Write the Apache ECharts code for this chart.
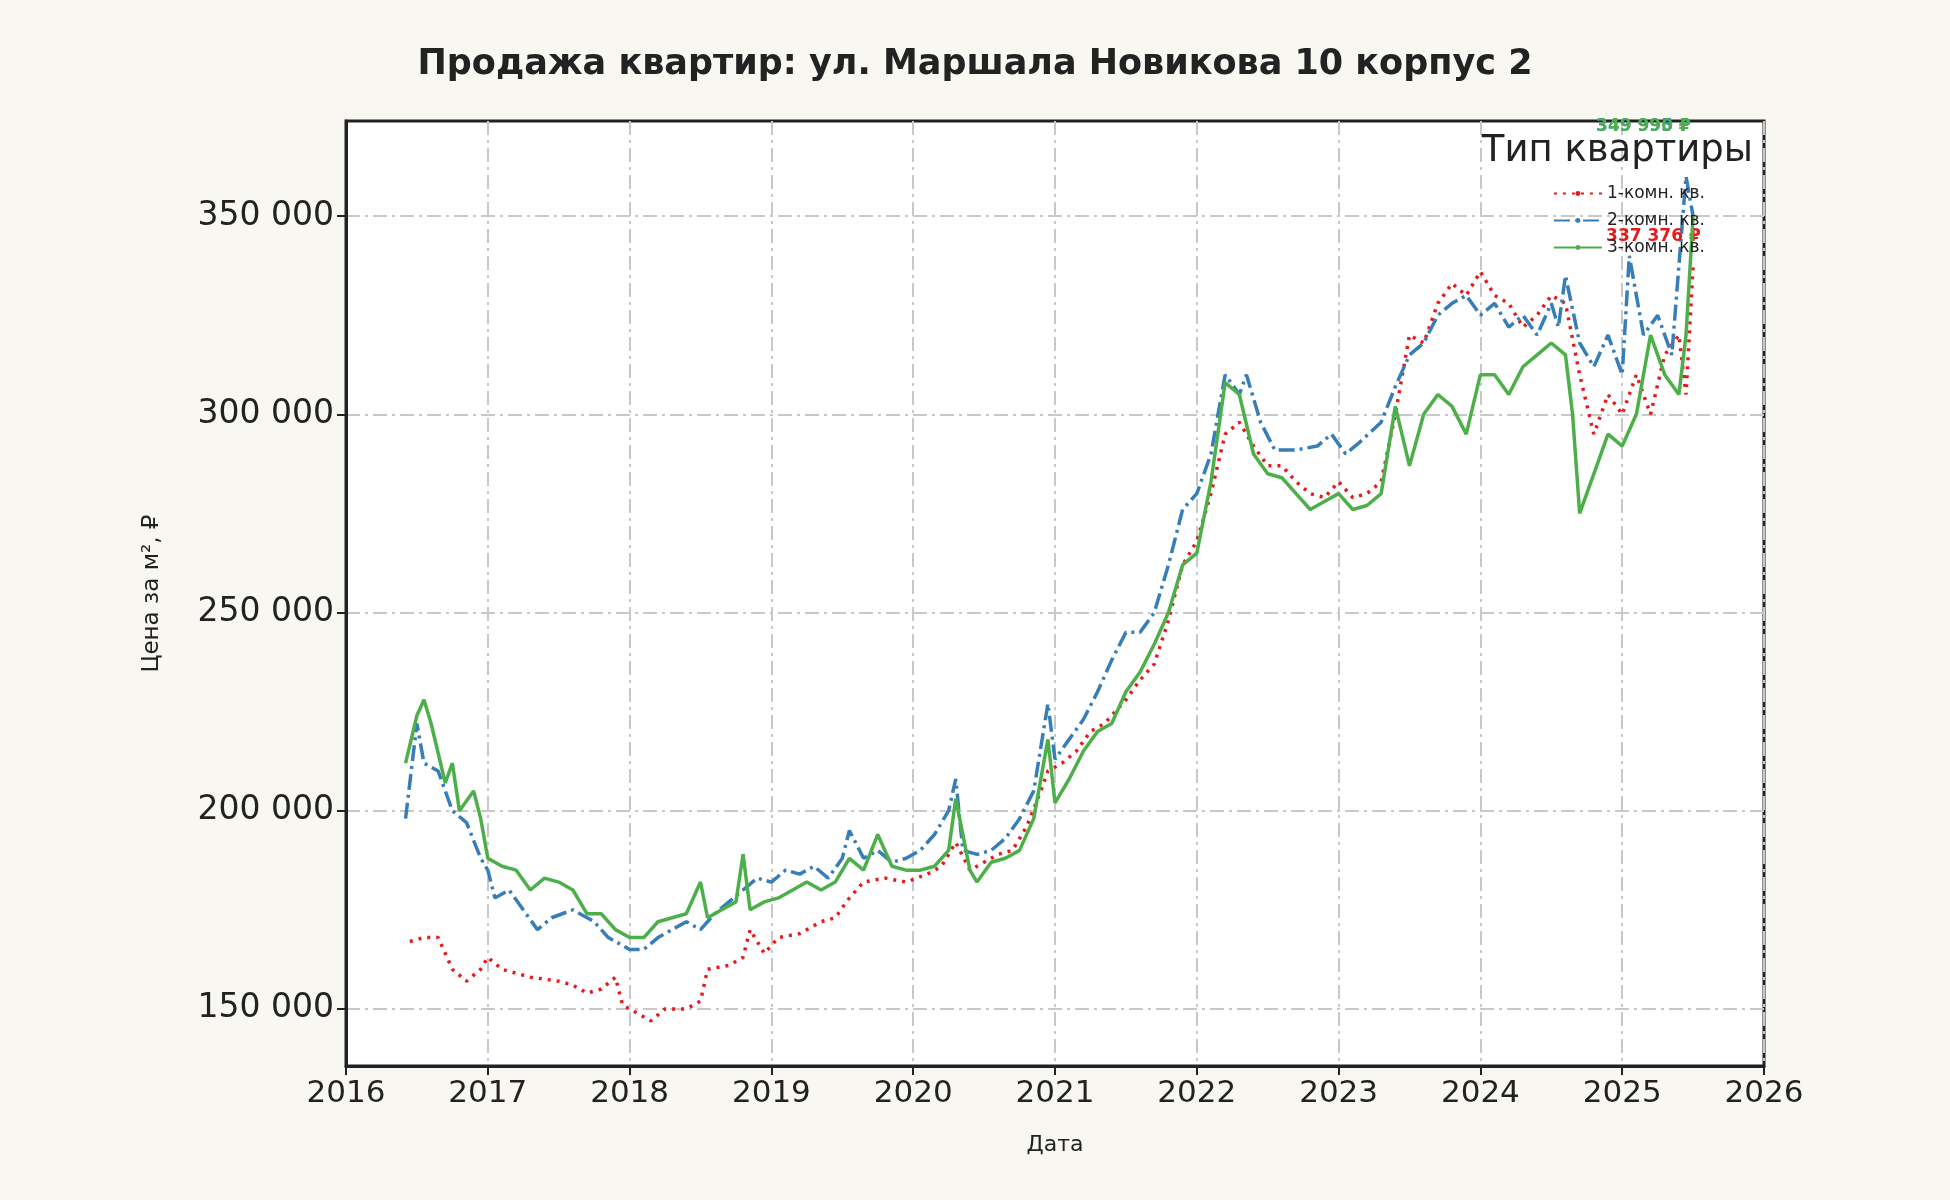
<!DOCTYPE html><html><head><meta charset="utf-8">
<script src="https://cdn.jsdelivr.net/npm/echarts@6/dist/echarts.min.js"></script>
<style>html,body{margin:0;background:#f8f7f2}#c{width:1950px;height:1200px}</style></head><body><div id="c"></div>
<script>
const seriesNames=['1-комн. кв.','2-комн. кв.','3-комн. кв.'];
const yTicks=[150000,200000,250000,300000,350000];
const xTicks=[2016,2017,2018,2019,2020,2021,2022,2023,2024,2025,2026];
const room1=[[2016.45,167000],[2016.55,168000],[2016.65,168000],[2016.75,160000],[2016.85,157000],[2016.95,160000],[2017.0,163000],[2017.1,160000],[2017.3,158000],[2017.5,157000],[2017.6,156000],[2017.7,154000],[2017.8,155000],[2017.9,158000],[2017.95,151000],[2018.05,149000],[2018.15,147000],[2018.25,150000],[2018.4,150000],[2018.5,152000],[2018.55,160000],[2018.7,161000],[2018.8,163000],[2018.85,170000],[2018.95,164000],[2019.05,168000],[2019.2,169000],[2019.35,172000],[2019.45,173000],[2019.55,178000],[2019.65,182000],[2019.8,183000],[2019.95,182000],[2020.1,184000],[2020.2,186000],[2020.3,192000],[2020.4,185000],[2020.5,187000],[2020.6,189000],[2020.7,190000],[2020.8,196000],[2020.9,205000],[2020.95,210000],[2021.05,212000],[2021.15,215000],[2021.25,220000],[2021.35,222000],[2021.5,228000],[2021.6,233000],[2021.7,237000],[2021.8,248000],[2021.9,262000],[2022.0,268000],[2022.1,280000],[2022.2,295000],[2022.3,298000],[2022.4,292000],[2022.5,287000],[2022.6,287000],[2022.7,283000],[2022.8,280000],[2022.9,279000],[2023.0,283000],[2023.1,279000],[2023.2,280000],[2023.3,283000],[2023.4,300000],[2023.5,320000],[2023.6,318000],[2023.7,328000],[2023.8,333000],[2023.9,330000],[2024.0,336000],[2024.1,330000],[2024.2,328000],[2024.3,322000],[2024.4,325000],[2024.5,330000],[2024.6,328000],[2024.7,310000],[2024.8,295000],[2024.9,305000],[2025.0,300000],[2025.1,310000],[2025.2,300000],[2025.3,315000],[2025.4,320000],[2025.45,305000],[2025.5,337376]];
const room2=[[2016.42,198000],[2016.5,222000],[2016.55,212000],[2016.65,210000],[2016.75,200000],[2016.85,197000],[2016.95,188000],[2017.0,185000],[2017.05,178000],[2017.15,180000],[2017.25,175000],[2017.35,170000],[2017.45,173000],[2017.6,175000],[2017.75,172000],[2017.85,168000],[2018.0,165000],[2018.1,165000],[2018.2,168000],[2018.3,170000],[2018.4,172000],[2018.5,170000],[2018.6,174000],[2018.7,177000],[2018.8,180000],[2018.9,183000],[2019.0,182000],[2019.1,185000],[2019.2,184000],[2019.3,186000],[2019.4,183000],[2019.5,188000],[2019.55,195000],[2019.65,188000],[2019.75,190000],[2019.85,187000],[2019.95,188000],[2020.05,190000],[2020.15,194000],[2020.25,200000],[2020.3,208000],[2020.35,190000],[2020.45,189000],[2020.55,190000],[2020.65,193000],[2020.75,198000],[2020.85,205000],[2020.95,227000],[2021.0,213000],[2021.1,218000],[2021.2,223000],[2021.3,230000],[2021.4,238000],[2021.5,245000],[2021.6,245000],[2021.7,250000],[2021.8,262000],[2021.9,276000],[2022.0,280000],[2022.1,290000],[2022.2,310000],[2022.3,305000],[2022.35,310000],[2022.45,298000],[2022.55,291000],[2022.7,291000],[2022.85,292000],[2022.95,295000],[2023.05,290000],[2023.15,293000],[2023.3,298000],[2023.4,307000],[2023.5,315000],[2023.6,318000],[2023.7,325000],[2023.8,328000],[2023.9,330000],[2024.0,325000],[2024.1,328000],[2024.2,322000],[2024.3,325000],[2024.4,320000],[2024.5,328000],[2024.55,322000],[2024.6,335000],[2024.7,318000],[2024.8,312000],[2024.9,320000],[2025.0,310000],[2025.05,340000],[2025.15,320000],[2025.25,325000],[2025.35,315000],[2025.45,360000],[2025.5,349995]];
const room3=[[2016.42,212000],[2016.5,224000],[2016.55,228000],[2016.6,222000],[2016.7,207000],[2016.75,212000],[2016.8,200000],[2016.9,205000],[2016.95,198000],[2017.0,188000],[2017.1,186000],[2017.2,185000],[2017.3,180000],[2017.4,183000],[2017.5,182000],[2017.6,180000],[2017.7,174000],[2017.8,174000],[2017.9,170000],[2018.0,168000],[2018.1,168000],[2018.2,172000],[2018.3,173000],[2018.4,174000],[2018.5,182000],[2018.55,173000],[2018.65,175000],[2018.75,177000],[2018.8,189000],[2018.85,175000],[2018.95,177000],[2019.05,178000],[2019.15,180000],[2019.25,182000],[2019.35,180000],[2019.45,182000],[2019.55,188000],[2019.65,185000],[2019.75,194000],[2019.85,186000],[2019.95,185000],[2020.05,185000],[2020.15,186000],[2020.25,190000],[2020.3,203000],[2020.4,185000],[2020.45,182000],[2020.55,187000],[2020.65,188000],[2020.75,190000],[2020.85,198000],[2020.95,218000],[2021.0,202000],[2021.1,208000],[2021.2,215000],[2021.3,220000],[2021.4,222000],[2021.5,230000],[2021.6,235000],[2021.7,242000],[2021.8,250000],[2021.9,262000],[2022.0,265000],[2022.1,283000],[2022.2,308000],[2022.3,305000],[2022.4,290000],[2022.5,285000],[2022.6,284000],[2022.7,280000],[2022.8,276000],[2022.9,278000],[2023.0,280000],[2023.1,276000],[2023.2,277000],[2023.3,280000],[2023.4,302000],[2023.5,287000],[2023.6,300000],[2023.7,305000],[2023.8,302000],[2023.9,295000],[2024.0,310000],[2024.1,310000],[2024.2,305000],[2024.3,312000],[2024.4,315000],[2024.5,318000],[2024.6,315000],[2024.65,300000],[2024.7,275000],[2024.8,285000],[2024.9,295000],[2025.0,292000],[2025.1,300000],[2025.2,320000],[2025.3,310000],[2025.4,305000],[2025.45,320000],[2025.5,349990]];
const colors=['#e41a1c','#377eb8','#4daf4a'];
const fmt=v=>String(Math.round(v)).replace(/\B(?=(\d{3})+(?!\d))/g,' ');
const F='DejaVu Sans';
const datas=[room1,room2,room3];
const offs=[[-95,-30],[-105,-90],[-105,-90]];
const chart=echarts.init(document.getElementById('c'));
chart.setOption({
backgroundColor:'#f8f7f2',
title:{text:'Продажа квартир: ул. Маршала Новикова 10 корпус 2',left:'center',top:42,textStyle:{fontFamily:F,fontSize:35,fontWeight:'bold',color:'#222'}},
grid:{left:346,right:186,top:121,bottom:134,show:true,backgroundColor:'#fff',borderColor:'#222',borderWidth:3},
legend:{data:seriesNames,orient:'vertical',right:240,top:180,itemWidth:48,itemHeight:6,itemGap:10,textStyle:{fontFamily:F,fontSize:17,color:'#222'}},
graphic:[{type:'text',right:197,top:133,z:100,style:{text:'Тип квартиры',fontFamily:F,fontSize:37,fill:'#222'}}],
xAxis:{type:'value',min:2016,max:2026,name:'Дата',nameLocation:'middle',nameGap:68,nameTextStyle:{fontFamily:F,fontSize:22,color:'#222'},
 axisLine:{show:true,lineStyle:{color:'#222',width:3}},axisTick:{show:true,customValues:xTicks,length:9,lineStyle:{color:'#222',width:2}},
 axisLabel:{customValues:xTicks,formatter:v=>String(v),fontFamily:F,fontSize:31,color:'#222',margin:12},
 splitLine:{show:true,lineStyle:{color:'#c8c8c8',width:2,type:[14,5,3,5]}}},
yAxis:{type:'value',min:135600,max:374000,name:'Цена за м², ₽',nameLocation:'middle',nameGap:182,nameTextStyle:{fontFamily:F,fontSize:23,color:'#222'},
 axisLine:{show:true,lineStyle:{color:'#222',width:3}},axisTick:{show:true,customValues:yTicks,length:9,lineStyle:{color:'#222',width:2}},
 axisLabel:{customValues:yTicks,formatter:fmt,fontFamily:F,fontSize:33,color:'#222',margin:12},
 splitLine:{show:true,lineStyle:{color:'#c8c8c8',width:2,type:[14,5,3,5]}}},
series:seriesNames.map((n,i)=>({name:n,type:'line',symbol:'none',data:datas[i],color:colors[i],
 endLabel:{show:true,formatter:p=>fmt(p.value[1])+' ₽',offset:offs[i],color:colors[i],fontWeight:'bold',fontSize:17,fontFamily:F},
 lineStyle:{width:3.5,color:colors[i],type:i===0?[3,6]:(i===1?[16,5,3,5]:'solid')},z:i===2?3:2}))
});
</script></body></html>
